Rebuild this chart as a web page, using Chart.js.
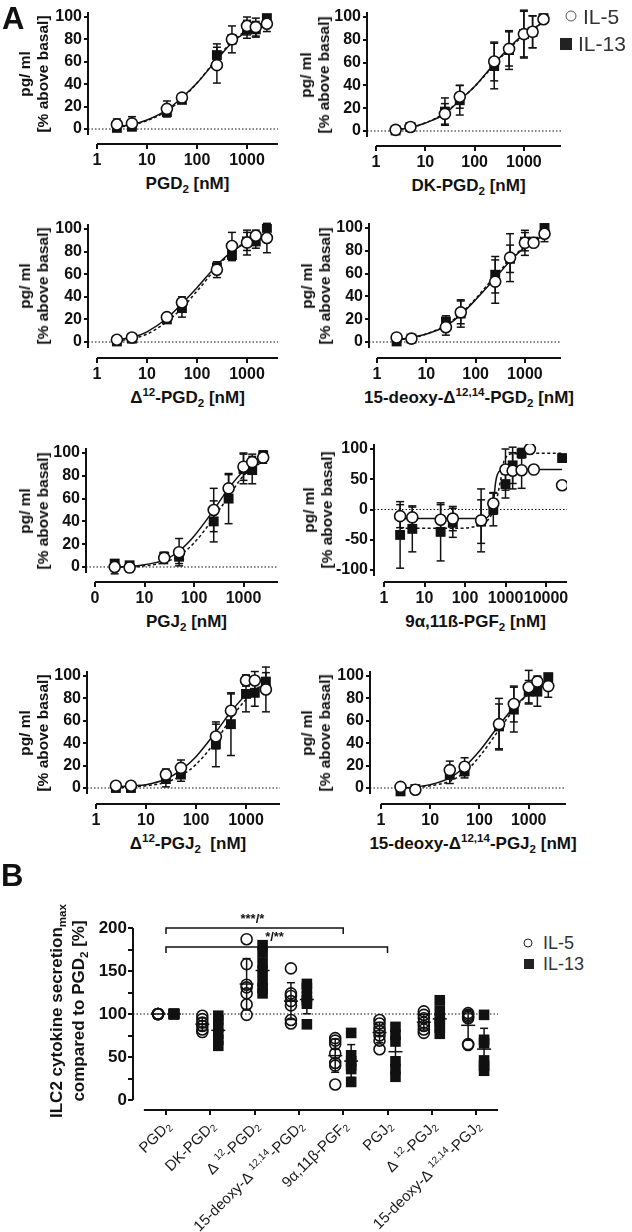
<!DOCTYPE html>
<html>
<head>
<meta charset="utf-8">
<title>ILC2 cytokine secretion - prostaglandin dose response</title>
<script src="https://cdn.jsdelivr.net/npm/chart.js@4.4.1/dist/chart.umd.min.js"></script>
<style>
  html, body { margin: 0; padding: 0; background: #fff; }
  body { position: relative; width: 632px; height: 1232px; overflow: hidden;
         font-family: 'Liberation Sans', Arial, sans-serif; color: #111; }
  canvas { position: absolute; }
  .t { position: absolute; white-space: nowrap; }
  .b { font-weight: bold; }
  .xt { font-size: 17px; transform: translate(-50%, -50%); }
  .yt { font-size: 15.5px; line-height: 18px; text-align: center; transform: translate(-50%, -50%) rotate(-90deg); }
  .ytb { font-size: 17px; line-height: 22px; text-align: center; transform: translate(-50%, -50%) rotate(-90deg); }
  .letter { font-size: 31px; font-weight: bold; line-height: 1; }
  sub, sup { font-size: 68%; line-height: 0; }
  .leg { transform: translateY(-50%); color: #333; }
  .sym { position: absolute; box-sizing: border-box; transform: translate(-50%, -50%); }
</style>
</head>
<body>
<script>
Chart.defaults.font.family = "'Liberation Sans', Arial, sans-serif";
Chart.defaults.color = '#111';

// ---------------- A: dose response, % above basal (mean +/- SD) ----------------
const doses = [2.5, 5, 25, 50, 250, 500, 1000, 1500, 2500];
const fitDoses = [2.5, 5, 10, 25, 50, 100, 250, 500, 1000, 2500];

// PGD2
const pgd2IL5 = [4, 5, 18, 28, 57, 80, 92, 91, 94];
const pgd2IL5sd = [5, 6, 7, 2, 16, 12, 8, 8, 7];
const pgd2IL13 = [1, 2, 15, 26, 66, 80, 89, 89, 99];
const pgd2IL13sd = [3, 3, 4, 2, 10, 4, 8, 7, 3];
const pgd2Fit5 = [2, 4, 8, 17, 28, 41, 62, 77, 87, 95];
const pgd2Fit13 = [1.5, 3.5, 7.5, 16, 27, 41, 63, 78, 88, 96];

// DK-PGD2
const dkIL5 = [1, 3.5, 15, 30, 61, 72, 85, 87, 98];
const dkIL5sd = [2, 2, 9, 10, 17, 15, 20, 14, 2];
const dkIL13 = [0.5, 3.5, 17, 27, 57, 71, 85, 87, 99];
const dkIL13sd = [2, 2, 12, 13, 20, 17, 21, 14, 2];
const dkFit5 = [1, 3, 7, 15, 27, 39, 59, 73, 85, 95];
const dkFit13 = [1, 3, 7, 16, 27, 39, 58, 72, 84, 96];

// delta12-PGD2
const d12dIL5 = [2, 4, 22, 35, 64, 85, 88, 94, 92];
const d12dIL5sd = [1, 1, 3, 5, 7, 12, 11, 5, 13];
const d12dIL13 = [0.5, 3, 20, 30, 66, 77, 89, 89, 101];
const d12dIL13sd = [1, 1, 3, 8, 5, 5, 8, 6, 3];
const d12dFit5 = [2, 4, 9, 21, 34, 48, 68, 80, 88, 94];
const d12dFit13 = [1, 3, 7, 18, 30, 45, 66, 80, 89, 96];

// 15-deoxy-delta12,14-PGD2
const dpgdIL5 = [4, 3, 13, 26, 53, 74, 87, 87, 95];
const dpgdIL5sd = [1, 1, 7, 10, 19, 21, 11, 3, 7];
const dpgdIL13 = [0.5, 3, 18, 25, 59, 73, 88, 88, 100];
const dpgdIL13sd = [1, 1, 5, 12, 16, 12, 8, 3, 3];
const dpgdFit5 = [2, 4, 7, 14, 24, 37, 56, 71, 83, 94];
const dpgdFit13 = [1.5, 3.5, 7, 15, 25, 38, 58, 72, 84, 95];

// PGJ2
const pgj2IL5 = [0, -0.5, 8, 13, 50, 69, 88, 92, 96];
const pgj2IL5sd = [6, 4, 5, 12, 19, 12, 12, 7, 5];
const pgj2IL13 = [3, 1.5, 9, 9, 40, 60, 86, 85, 98];
const pgj2IL13sd = [3, 3, 3, 6, 18, 22, 13, 12, 4];
const pgj2Fit5 = [0, 0.5, 2, 6, 14, 27, 50, 69, 84, 94];
const pgj2Fit13 = [0, 0, 1, 4, 10, 21, 43, 62, 80, 93];

// 9alpha,11beta-PGF2 (wider dose range)
const pgfDoses = [2.5, 5, 25, 50, 250, 500, 1000, 1500, 2500, 4000, 5000, 25000];
const pgfIL5 = [-11, -13, -17, -15, -18, 10, 66, 64, 65, 100, 66, 40];
const pgfIL5sd = [19, 17, 25, 20, 52, 18, 34, 30, 30, 0, 0, 0];
const pgfIL13 = [-42, -32, -37, -22, -20, 0, 42, 73, 93, null, null, 85];
const pgfIL13sd = [55, 38, 48, 24, 36, 27, 23, 30, 8, 0, 0, 0];
const pgfFit5x = [2.5, 300, 430, 500, 570, 630, 760, 1000, 25000];
const pgfFit5 = [-15, -15, -5, 10, 45, 58, 65, 66, 66];
const pgfFit13x = [2.5, 60, 295, 430, 570, 760, 920, 1480, 25000];
const pgfFit13 = [-31, -31, -22, -11, 10, 49, 80, 92, 93];

// delta12-PGJ2
const d12jIL5 = [2, 2, 12, 18, 46, 69, 96, 96, 88];
const d12jIL5sd = [2, 2, 5, 7, 11, 15, 5, 8, 20];
const d12jIL13 = [0, 0, 8, 12, 39, 57, 84, 85, 95];
const d12jIL13sd = [2, 2, 7, 6, 20, 28, 16, 12, 8];
const d12jFit5 = [1, 2, 3, 8, 16, 28, 50, 68, 83, 93];
const d12jFit13 = [0, 1, 2, 5, 11, 21, 42, 62, 79, 92];

// 15-deoxy-delta12,14-PGJ2
const dpgjIL5 = [1, -1.5, 16, 19, 57, 75, 90, 95, 91];
const dpgjIL5sd = [2, 2, 8, 8, 23, 16, 15, 5, 10];
const dpgjIL13 = [-3, -1, 12, 15, 55, 70, 86, 86, 99];
const dpgjIL13sd = [2, 2, 8, 6, 20, 20, 10, 13, 3];
const dpgjFit5 = [0, 1, 3, 9, 19, 33, 56, 72, 84, 93];
const dpgjFit13 = [0, 0.5, 2, 6, 14, 28, 52, 70, 84, 94];

const logTicks = [1, 10, 100, 1000];
const logLabels = ['1', '10', '100', '1000'];
const pctTicks = [0, 20, 40, 60, 80, 100];

// ---------------- B: max secretion relative to PGD2 ----------------
const bCats = ['PGD_{2}', 'DK-PGD_{2}', 'Δ ^{12}-PGD_{2}', '15-deoxy-Δ ^{12,14}-PGD_{2}',
               '9α,11β-PGF_{2}', 'PGJ_{2}', 'Δ ^{12}-PGJ_{2}', '15-deoxy-Δ ^{12,14}-PGJ_{2}'];
const il5Max = [
  [100, 100, 100, 100, 100, 100],
  [98, 94, 90, 86, 82, 79],
  [187, 158, 134, 131, 124, 111, 99],
  [153, 124, 121, 115, 110, 93, 89],
  [72, 69, 65, 54, 43, 40, 18],
  [93, 89, 84, 80, 75, 69, 59],
  [103, 99, 95, 90, 86, 82, 78],
  [101, 99, 97, 95, 65, 64]
];
const il13Max = [
  [100, 100, 100, 100, 100, 100],
  [98, 93, 85, 77, 70, 63],
  [180, 172, 160, 150, 138, 130, 124],
  [135, 130, 120, 116, 112, 88],
  [78, 52, 45, 40, 36, 21],
  [85, 76, 68, 45, 36, 27],
  [116, 104, 95, 90, 84, 77],
  [99, 70, 66, 46, 40, 34]
];
const bTicks = [0, 25, 50, 75, 100, 125, 150, 175, 200];
const sigBars = [
  { from: 0, to: 4, y: 200, label: '***/*', lx: 1.95 },
  { from: 0, to: 5, y: 178, label: '*/**', lx: 2.45 }
];

// ---------------- layout ----------------
const panels = [
  { title: 'PGD<sub>2</sub> [nM]', x: doses, il5: pgd2IL5, il5sd: pgd2IL5sd, il13: pgd2IL13, il13sd: pgd2IL13sd,
    f5x: fitDoses, f5: pgd2Fit5, f13x: fitDoses, f13: pgd2Fit13, xTicks: logTicks, xLabels: logLabels, yTicks: pctTicks,
    box: { ax: 88, x1: 97, dec: 50, xEnd: 278, y100: 17, y0: 129, xa: 144, ytx: 34 } },
  { title: 'DK-PGD<sub>2</sub> [nM]', x: doses, il5: dkIL5, il5sd: dkIL5sd, il13: dkIL13, il13sd: dkIL13sd,
    f5x: fitDoses, f5: dkFit5, f13x: fitDoses, f13: dkFit13, xTicks: logTicks, xLabels: logLabels, yTicks: pctTicks,
    box: { ax: 367, x1: 376, dec: 49.3, xEnd: 561, y100: 17, y0: 131, xa: 146, ytx: 315 } },
  { title: 'Δ<sup>12</sup>-PGD<sub>2</sub> [nM]', x: doses, il5: d12dIL5, il5sd: d12dIL5sd, il13: d12dIL13, il13sd: d12dIL13sd,
    f5x: fitDoses, f5: d12dFit5, f13x: fitDoses, f13: d12dFit13, xTicks: logTicks, xLabels: logLabels, yTicks: pctTicks,
    box: { ax: 88, x1: 97, dec: 50, xEnd: 278, y100: 229, y0: 342, xa: 358, ytx: 34 } },
  { title: '15-deoxy-Δ<sup>12,14</sup>-PGD<sub>2</sub> [nM]', x: doses, il5: dpgdIL5, il5sd: dpgdIL5sd, il13: dpgdIL13, il13sd: dpgdIL13sd,
    f5x: fitDoses, f5: dpgdFit5, f13x: fitDoses, f13: dpgdFit13, xTicks: logTicks, xLabels: logLabels, yTicks: pctTicks,
    box: { ax: 369, x1: 377, dec: 49.3, xEnd: 561, y100: 228, y0: 342, xa: 358, ytx: 316 } },
  { title: 'PGJ<sub>2</sub> [nM]', x: doses, il5: pgj2IL5, il5sd: pgj2IL5sd, il13: pgj2IL13, il13sd: pgj2IL13sd,
    f5x: fitDoses, f5: pgj2Fit5, f13x: fitDoses, f13: pgj2Fit13, xTicks: logTicks, xLabels: ['0', '10', '100', '1000'], yTicks: pctTicks,
    box: { ax: 86, x1: 95, dec: 49.5, xEnd: 278, y100: 453, y0: 567, xa: 582, ytx: 34 } },
  { title: '9α,11ß-PGF<sub>2</sub> [nM]', x: pgfDoses, il5: pgfIL5, il5sd: pgfIL5sd, il13: pgfIL13, il13sd: pgfIL13sd,
    f5x: pgfFit5x, f5: pgfFit5, f13x: pgfFit13x, f13: pgfFit13,
    xTicks: [1, 10, 100, 1000, 10000], xLabels: ['1', '10', '100', '1000', '10000'], yTicks: [-100, -50, 0, 50, 100],
    box: { ax: 374, x1: 384, dec: 40.5, xEnd: 567, y100: 449, y0: 509.5, xa: 582, ytx: 318 } },
  { title: 'Δ<sup>12</sup>-PGJ<sub>2</sub>&nbsp; [nM]', x: doses, il5: d12jIL5, il5sd: d12jIL5sd, il13: d12jIL13, il13sd: d12jIL13sd,
    f5x: fitDoses, f5: d12jFit5, f13x: fitDoses, f13: d12jFit13, xTicks: logTicks, xLabels: logLabels, yTicks: pctTicks,
    box: { ax: 87, x1: 96, dec: 50, xEnd: 280, y100: 676, y0: 788, xa: 804, ytx: 34 } },
  { title: '15-deoxy-Δ<sup>12,14</sup>-PGJ<sub>2</sub> [nM]', x: doses, il5: dpgjIL5, il5sd: dpgjIL5sd, il13: dpgjIL13, il13sd: dpgjIL13sd,
    f5x: fitDoses, f5: dpgjFit5, f13x: fitDoses, f13: dpgjFit13, xTicks: logTicks, xLabels: logLabels, yTicks: pctTicks,
    box: { ax: 370, x1: 380, dec: 49.5, xEnd: 566, y100: 676, y0: 788, xa: 804, ytx: 316 } }
];

function addText(html, cls, x, y, extra) {
  const d = document.createElement('div');
  d.className = 't ' + cls;
  d.innerHTML = html;
  d.style.left = x + 'px';
  d.style.top = y + 'px';
  if (extra) Object.assign(d.style, extra);
  document.body.appendChild(d);
  return d;
}

function addSym(shape, x, y, size, color) {
  const d = document.createElement('div');
  d.className = 'sym';
  d.style.left = x + 'px';
  d.style.top = y + 'px';
  d.style.width = size + 'px';
  d.style.height = size + 'px';
  if (shape === 'circle') {
    d.style.border = '1.6px solid ' + color;
    d.style.borderRadius = '50%';
    d.style.background = '#fff';
  } else {
    d.style.background = color;
  }
  document.body.appendChild(d);
}

function makeCanvas(left, top, w, h) {
  const c = document.createElement('canvas');
  c.width = w; c.height = h;
  c.style.left = left + 'px'; c.style.top = top + 'px';
  c.style.width = w + 'px'; c.style.height = h + 'px';
  document.body.appendChild(c);
  return c;
}

function points(xs, ys, sds) {
  const out = [];
  xs.forEach((x, i) => { if (ys[i] !== null) out.push({ x: x, y: ys[i], sd: sds ? sds[i] : 0 }); });
  return out;
}

function line(ctx, x1, y1, x2, y2) {
  ctx.beginPath(); ctx.moveTo(x1, y1); ctx.lineTo(x2, y2); ctx.stroke();
}

const tickFont = { size: 16, weight: 'bold' };

// ---- panel A charts ----
panels.forEach(p => {
  const b = p.box;
  const ppu = (b.y0 - b.y100) / 100;
  const topPx = b.y100 - 5;
  const yMax = (b.y0 - topPx) / ppu;
  const yMin = -(b.xa - b.y0) / ppu;
  const xMin = Math.pow(10, (b.ax - b.x1) / b.dec);
  const xMax = Math.pow(10, (b.xEnd - b.x1) / b.dec);
  const padT = 16, padR = 16, yW = 50, xH = 28;
  const left = b.ax - yW, top = topPx - padT;
  const c = makeCanvas(left, top, b.xEnd + padR - left, b.xa + xH - top);
  const yBottom = p.yTicks[0] - 6 / ppu;

  const prism = {
    id: 'prism',
    beforeDatasetsDraw(chart) {
      const { ctx, chartArea: a, scales: { x, y } } = chart;
      ctx.save();
      ctx.strokeStyle = '#111';
      ctx.lineWidth = 1.2;
      ctx.setLineDash([1.5, 2]);
      const ry = y.getPixelForValue(0);
      line(ctx, a.left, ry, a.right, ry);
      ctx.setLineDash([]);
      ctx.lineWidth = 1.5;
      chart.data.datasets.forEach(ds => {
        if (!ds.errBars) return;
        ds.data.forEach(d => {
          if (!d.sd) return;
          const px = x.getPixelForValue(d.x);
          const hi = y.getPixelForValue(d.y + d.sd), lo = y.getPixelForValue(d.y - d.sd);
          line(ctx, px, hi, px, lo);
          line(ctx, px - 4, hi, px + 4, hi);
          line(ctx, px - 4, lo, px + 4, lo);
        });
      });
      ctx.restore();
    },
    afterDraw(chart) {
      const { ctx, chartArea: a, scales: { x, y } } = chart;
      ctx.save();
      ctx.strokeStyle = '#111';
      ctx.lineWidth = 2;
      line(ctx, a.left, y.getPixelForValue(yMax), a.left, y.getPixelForValue(yBottom));
      line(ctx, x.getPixelForValue(1), a.bottom, a.right, a.bottom);
      ctx.restore();
    }
  };

  new Chart(c, {
    type: 'scatter',
    data: {
      datasets: [
        { label: 'IL-5', data: points(p.x, p.il5, p.il5sd), errBars: true, pointStyle: 'circle',
          pointRadius: 5.5, pointBackgroundColor: '#fff', pointBorderColor: '#111', pointBorderWidth: 1.6 },
        { label: 'IL-13', data: points(p.x, p.il13, p.il13sd), errBars: true, pointStyle: 'rect',
          pointRadius: 7, pointBackgroundColor: '#111', pointBorderColor: '#111', pointBorderWidth: 0 },
        { label: 'IL-5 fit', data: points(p.f5x, p.f5), showLine: true, pointRadius: 0, borderColor: '#111',
          borderWidth: 1.5, cubicInterpolationMode: 'monotone' },
        { label: 'IL-13 fit', data: points(p.f13x, p.f13), showLine: true, pointRadius: 0, borderColor: '#111',
          borderWidth: 1.5, borderDash: [3, 2.5], cubicInterpolationMode: 'monotone' }
      ]
    },
    options: {
      responsive: false,
      animation: false,
      devicePixelRatio: 1,
      layout: { padding: { top: padT, right: padR, left: 0, bottom: 0 } },
      plugins: { legend: { display: false }, tooltip: { enabled: false } },
      scales: {
        x: {
          type: 'logarithmic', min: xMin, max: xMax,
          border: { display: false },
          grid: { drawOnChartArea: false, drawTicks: true, tickLength: 5, lineWidth: 2, color: '#111' },
          ticks: { font: tickFont, color: '#111', padding: 2, autoSkip: false, maxRotation: 0,
                   callback: (v, i) => p.xLabels[i] },
          afterBuildTicks: s => { s.ticks = p.xTicks.map(v => ({ value: v })); },
          afterFit: s => { s.height = xH; }
        },
        y: {
          min: yMin, max: yMax,
          border: { display: false },
          grid: { drawOnChartArea: false, drawTicks: true, tickLength: 4, lineWidth: 2, color: '#111' },
          ticks: { font: tickFont, color: '#111', padding: 2 },
          afterBuildTicks: s => { s.ticks = p.yTicks.map(v => ({ value: v })); },
          afterFit: s => { s.width = yW; }
        }
      }
    },
    plugins: [prism]
  });

  addText(p.title, 'b xt', (b.x1 + b.xEnd) / 2, b.xa + 40);
  addText('pg/ ml<br>[% above basal]', 'b yt', b.ytx, (topPx + (b.y0 + ppu * (-p.yTicks[0]) + 6)) / 2);
});

// ---- panel B chart ----
(function () {
  const ax = 133, cat0 = 166, step = 44.3, xEnd = 498, y0 = 1100, y200 = 928, xa = 1110;
  const ppu = (y0 - y200) / 200;
  const topPx = 922;
  const yMax = (y0 - topPx) / ppu, yMin = -(xa - y0) / ppu;
  const xMin = (ax - cat0) / step, xMax = (xEnd - cat0) / step;
  const padT = 30, padR = 14, yW = 90;
  const left = ax - yW, top = topPx - padT;
  const xH = 1232 - xa;
  const c = makeCanvas(left, top, xEnd + padR - left, 1232 - top);
  const off = 0.18;

  const il5Pts = [], il13Pts = [];
  il5Max.forEach((g, i) => g.forEach(v => il5Pts.push({ x: i - off, y: v })));
  il13Max.forEach((g, i) => g.forEach(v => il13Pts.push({ x: i + off, y: v })));

  function richParts(s) {
    const parts = [];
    const re = /([_^])\{([^}]*)\}/g;
    let last = 0, m;
    while ((m = re.exec(s))) {
      if (m.index > last) parts.push({ t: s.slice(last, m.index), k: 'n' });
      parts.push({ t: m[2], k: m[1] === '^' ? 'sup' : 'sub' });
      last = re.lastIndex;
    }
    if (last < s.length) parts.push({ t: s.slice(last), k: 'n' });
    return parts;
  }

  function drawRich(ctx, s, x, y, size) {
    const fam = "'Liberation Sans', Arial, sans-serif";
    const fN = size + 'px ' + fam, fS = Math.round(size * 0.68) + 'px ' + fam;
    const parts = richParts(s);
    let w = 0;
    parts.forEach(p => { ctx.font = p.k === 'n' ? fN : fS; p.w = ctx.measureText(p.t).width; w += p.w; });
    ctx.save();
    ctx.translate(x, y);
    ctx.rotate(-Math.PI / 4);
    ctx.textBaseline = 'middle';
    ctx.textAlign = 'left';
    ctx.fillStyle = '#1a1a1a';
    let cx = -w;
    parts.forEach(p => {
      ctx.font = p.k === 'n' ? fN : fS;
      const dy = p.k === 'sup' ? -size * 0.33 : (p.k === 'sub' ? size * 0.25 : 0);
      ctx.fillText(p.t, cx, dy);
      cx += p.w;
    });
    ctx.restore();
  }

  const extras = {
    id: 'bextras',
    beforeDatasetsDraw(chart) {
      const { ctx, chartArea: a, scales: { y } } = chart;
      ctx.save();
      ctx.strokeStyle = '#111';
      ctx.lineWidth = 1.2;
      ctx.setLineDash([1.5, 2]);
      const ry = y.getPixelForValue(100);
      line(ctx, a.left, ry, a.right, ry);
      ctx.restore();
    },
    afterDatasetsDraw(chart) {
      const { ctx, scales: { x, y } } = chart;
      ctx.save();
      ctx.strokeStyle = '#111';
      ctx.lineWidth = 1.5;
      [[il5Max, -off], [il13Max, off]].forEach(([groups, o]) => {
        groups.forEach((g, i) => {
          const mean = g.reduce((s, v) => s + v, 0) / g.length;
          const sd = Math.sqrt(g.reduce((s, v) => s + (v - mean) * (v - mean), 0) / (g.length - 1));
          const px = x.getPixelForValue(i + o);
          const pm = y.getPixelForValue(mean), hi = y.getPixelForValue(mean + sd), lo = y.getPixelForValue(mean - sd);
          line(ctx, px - 7, pm, px + 7, pm);
          if (sd > 0.5) {
            line(ctx, px, hi, px, lo);
            line(ctx, px - 4, hi, px + 4, hi);
            line(ctx, px - 4, lo, px + 4, lo);
          }
        });
      });
      ctx.restore();
    },
    afterDraw(chart) {
      const { ctx, chartArea: a, scales: { x, y } } = chart;
      ctx.save();
      ctx.strokeStyle = '#111';
      ctx.lineWidth = 2;
      line(ctx, a.left, y.getPixelForValue(200), a.left, y.getPixelForValue(0));
      line(ctx, x.getPixelForValue(-0.5), a.bottom, a.right, a.bottom);
      // significance brackets
      ctx.lineWidth = 1.5;
      ctx.fillStyle = '#111';
      ctx.font = "bold 13px 'Liberation Sans', Arial, sans-serif";
      ctx.textAlign = 'center';
      ctx.textBaseline = 'middle';
      sigBars.forEach(s => {
        const yb = y.getPixelForValue(s.y), x1 = x.getPixelForValue(s.from), x2 = x.getPixelForValue(s.to);
        ctx.beginPath();
        ctx.moveTo(x1, yb + 6); ctx.lineTo(x1, yb); ctx.lineTo(x2, yb); ctx.lineTo(x2, yb + 6);
        ctx.stroke();
        ctx.fillText(s.label, x.getPixelForValue(s.lx), yb - 9);
      });
      // category labels
      bCats.forEach((lab, i) => drawRich(ctx, lab, x.getPixelForValue(i) + 3, a.bottom + 14, 15));
      ctx.restore();
    }
  };

  new Chart(c, {
    type: 'scatter',
    data: {
      datasets: [
        { label: 'IL-5', data: il5Pts, pointStyle: 'circle', pointRadius: 5.5,
          pointBackgroundColor: 'rgba(255,255,255,0)', pointBorderColor: '#111', pointBorderWidth: 1.6 },
        { label: 'IL-13', data: il13Pts, pointStyle: 'rect', pointRadius: 7.5,
          pointBackgroundColor: '#111', pointBorderColor: '#111', pointBorderWidth: 0 }
      ]
    },
    options: {
      responsive: false,
      animation: false,
      devicePixelRatio: 1,
      layout: { padding: { top: padT, right: padR, left: 0, bottom: 0 } },
      plugins: { legend: { display: false }, tooltip: { enabled: false } },
      scales: {
        x: {
          type: 'linear', min: xMin, max: xMax,
          border: { display: false },
          grid: { drawOnChartArea: false, drawTicks: true, tickLength: 5, lineWidth: 2, color: '#111' },
          ticks: { display: false },
          afterBuildTicks: s => { s.ticks = bCats.map((_, i) => ({ value: i })); },
          afterFit: s => { s.height = xH; }
        },
        y: {
          min: yMin, max: yMax,
          border: { display: false },
          grid: { drawOnChartArea: false, drawTicks: true, tickLength: 5, lineWidth: 2, color: '#111' },
          ticks: { font: { size: 17, weight: 'bold' }, color: '#111', padding: 1, callback: v => (v % 50 === 0 ? v : '') },
          afterBuildTicks: s => { s.ticks = bTicks.map(v => ({ value: v })); },
          afterFit: s => { s.width = yW; }
        }
      }
    },
    plugins: [extras]
  });

  addText('ILC2 cytokine secretion<sub>max</sub><br>compared to PGD<sub>2</sub> [%]', 'b ytb', 68, (y200 + y0) / 2 - 3);
})();

// ---- letters and legends ----
addText('A', 'letter', 2, 3);
addText('B', 'letter', 1, 860);

addSym('circle', 571, 16, 11, '#555');
addText('IL-5', 'leg', 583, 17, { fontSize: '21px' });
addSym('rect', 566, 44, 12, '#222');
addText('IL-13', 'leg', 578, 44, { fontSize: '21px' });

addSym('circle', 528, 943, 9, '#222');
addText('IL-5', 'leg', 543, 943, { fontSize: '18px' });
addSym('rect', 529, 964, 10, '#222');
addText('IL-13', 'leg', 543, 964, { fontSize: '18px' });
</script>
</body>
</html>
